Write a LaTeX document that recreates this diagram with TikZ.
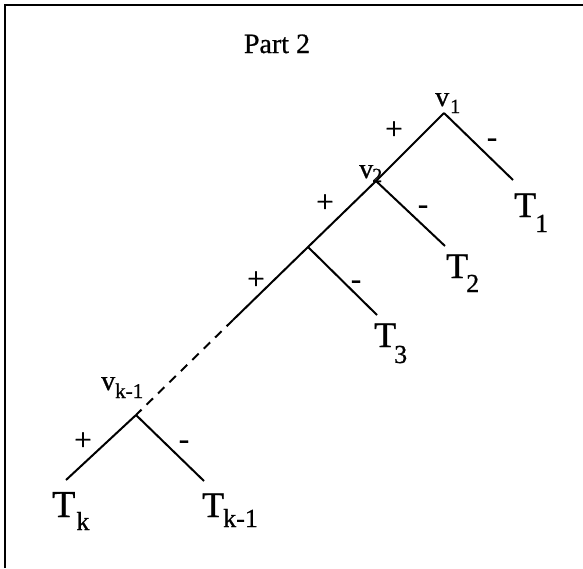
\documentclass[tikz,border=0pt]{standalone}
\usepackage{fontspec}
\setmainfont{Liberation Serif}[FakeBold=0.8]
\newcommand\fsz[1]{\fontsize{#1}{#1}\selectfont}
% #1 main letter, #2 main size, #3 subscript, #4 sub size, #5 lowering, #6 kern
\newcommand\labsub[6]{{\fsz{#2}#1}\kern#6\raisebox{-#5}{\fsz{#4}#3}}
\begin{document}
\begin{tikzpicture}[x=1pt,y=-1pt,
  edge/.style={line width=2pt},
  dashedge/.style={line width=2pt,dash pattern=on 9pt off 7pt},
  frame/.style={line width=2pt},
  sign/.style={inner sep=0pt,anchor=base,font=\fsz{31}},
  lab/.style={inner sep=0pt,anchor=base west}]
\useasboundingbox (0,0) rectangle (583,568);
% frame (only top and left edges visible)
\coordinate (fbl) at (5,568);
\coordinate (ftl) at (5,5);
\coordinate (ftr) at (583,5);
\draw[frame] (fbl) -- (ftl) -- (ftr);
% title
\node[inner sep=0pt,anchor=base,font=\fsz{28}] (title) at (277,53) {Part 2};
% tree vertices
\coordinate (v1) at (444,113);
\coordinate (v2) at (376,181);
\coordinate (v3) at (308,247);
\coordinate (d) at (233,320);
\coordinate (vk) at (136,415);
\coordinate (t1) at (513,180);
\coordinate (t2) at (445,246);
\coordinate (t3) at (377,315);
\coordinate (tk) at (66,480);
\coordinate (tk1) at (204,481);
% edges
\draw[edge] (v1) -- (v2) -- (v3) -- (d);
\draw[dashedge] (d) -- (vk);
\draw[edge] (v1) -- (t1);
\draw[edge] (v2) -- (t2);
\draw[edge] (v3) -- (t3);
\draw[edge] (vk) -- (tk);
\draw[edge] (vk) -- (tk1);
% signs
\node[sign] (p1) at (394,139) {+};
\node[sign] (m1) at (492,147) {-};
\node[sign] (p2) at (325,212) {+};
\node[sign] (m2) at (423,214) {-};
\node[sign] (p3) at (256,289) {+};
\node[sign] (m3) at (356,289) {-};
\node[sign] (pk) at (83,450) {+};
\node[sign] (mk) at (184,449) {-};
% vertex labels
\node[lab] (lv1) at (435,106) {\labsub{v}{28}{1}{20}{7pt}{1pt}};
\node[lab] (lv2) at (359,178) {\labsub{v}{28}{2}{20}{4pt}{-1pt}};
\node[lab] (lvk) at (101,390) {\labsub{v}{28}{k-1}{21}{8pt}{0pt}};
% leaf labels
\node[lab] (lt1) at (514,217) {\labsub{T}{36}{1}{26}{15pt}{-1pt}};
\node[lab] (lt2) at (446,278) {\labsub{T}{36}{2}{26}{14pt}{-2pt}};
\node[lab] (lt3) at (374,347) {\labsub{T}{36}{3}{26}{16pt}{-2pt}};
\node[lab] (ltk) at (52,517) {\labsub{T}{38}{k}{26}{13pt}{1pt}};
\node[lab] (ltk1) at (202,517) {\labsub{T}{36}{k-1}{26}{10pt}{-1pt}};
\end{tikzpicture}
\end{document}
